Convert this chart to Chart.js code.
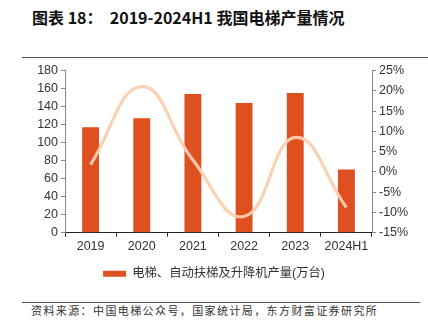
<!DOCTYPE html>
<html>
<head>
<meta charset="utf-8">
<script src="https://cdn.jsdelivr.net/npm/chart.js@4"></script>
<style>
    body { margin: 0; background: #fff; width: 428px; height: 334px; overflow: hidden; position: relative; font-family: "Noto Sans CJK SC", sans-serif; }
    #title { position: absolute; left: 32px; top: 5px; font-size: 16px; font-weight: bold; color: #111; white-space: pre; }
    .rule { position: absolute; left: 22px; right: 0; height: 1px; background: #555; }
    #chart-box { position: absolute; left: 0; top: 60px; width: 428px; height: 230px; }
    #source { position: absolute; left: 31px; top: 302px; font-size: 11px; color: #333; letter-spacing: 1.4px; white-space: pre; }
</style>
</head>
<body>
<div id="title">图表 18：  2019-2024H1 我国电梯产量情况</div>
<div class="rule" style="top:57px"></div>
<div id="chart-box"><canvas id="chart"></canvas></div>
<div class="rule" style="top:302px; right:8px"></div>
<div id="source">资料来源：中国电梯公众号，国家统计局，东方财富证券研究所</div>
<script>
// --- Data ---
const years = ['2019', '2020', '2021', '2022', '2023', '2024H1'];
const output = [117, 127, 154, 144, 155, 70];        // 万台
const growth = [1.8, 21, 2.9, -11, 8.5, -8.8];       // %
const leftTicks = [0, 20, 40, 60, 80, 100, 120, 140, 160, 180];
const rightTicks = [-15, -10, -5, 0, 5, 10, 15, 20, 25];

const tickFont = { family: 'Liberation Sans, Arial, sans-serif', size: 12.5 };
const axisGray = '#888';

const ctx = document.getElementById('chart').getContext('2d');
new Chart(ctx, {
    data: {
        labels: years,
        datasets: [{
            type: 'line',
            label: '同比',
            data: growth,
            yAxisID: 'yRight',
            borderColor: 'rgba(250, 208, 175, 0.95)',
            borderWidth: 3.2,
            pointRadius: 0,
            tension: 0.45,
            fill: false,
            order: 0
        }, {
            type: 'bar',
            label: '电梯、自动扶梯及升降机产量(万台)',
            data: output,
            yAxisID: 'y',
            backgroundColor: '#DE501F',
            categoryPercentage: 1,
            barPercentage: 0.33,
            order: 1
        }]
    },
    options: {
        responsive: true,
        maintainAspectRatio: false,
        animation: false,
        layout: { padding: { top: 10, left: 0, right: 0, bottom: 0 } },
        scales: {
            x: {
                offset: true,
                grid: { display: true, drawOnChartArea: false, offset: true, color: '#222', tickLength: 4 },
                border: { color: '#222' },
                ticks: { color: '#333', font: tickFont, padding: 2, maxRotation: 0 },
                afterFit: s => { s.height = 26; }
            },
            y: {
                position: 'left',
                min: 0, max: 180,
                afterBuildTicks: s => { s.ticks = leftTicks.map(v => ({ value: v })); },
                grid: { drawOnChartArea: false, color: axisGray, tickLength: 4 },
                border: { color: axisGray },
                ticks: { color: '#333', font: tickFont, padding: 3 },
                afterFit: s => { s.width = 65; }
            },
            yRight: {
                position: 'right',
                min: -15, max: 25,
                afterBuildTicks: s => { s.ticks = rightTicks.map(v => ({ value: v })); },
                grid: { drawOnChartArea: false, color: axisGray, tickLength: 4 },
                border: { color: axisGray },
                ticks: { color: '#333', font: tickFont, padding: 3, callback: v => v + '%' },
                afterFit: s => { s.width = 56; }
            }
        },
        plugins: {
            legend: {
                position: 'bottom',
                labels: {
                    filter: item => item.datasetIndex === 1,
                    boxWidth: 23,
                    boxHeight: 6,
                    color: '#333',
                    padding: 9,
                    font: { family: 'Liberation Sans, "Noto Sans CJK SC", sans-serif', size: 12.3 }
                }
            },
            tooltip: { enabled: false }
        }
    }
});
</script>
</body>
</html>
